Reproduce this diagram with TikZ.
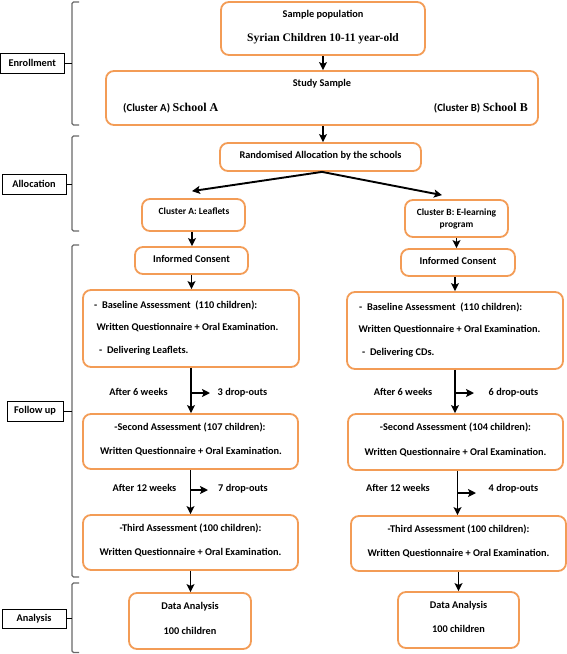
\documentclass[tikz,border=0pt]{standalone}
\usepackage{fontspec}
\setmainfont{Carlito}
\newfontfamily\tnr{Liberation Serif}
\usetikzlibrary{arrows.meta}
\definecolor{myorange}{RGB}{243,156,86}
\definecolor{bracegray}{RGB}{105,105,105}
\tikzset{
  obox/.style={draw=myorange, line width=1.8pt, rounded corners=8pt, inner sep=0pt},
  txt/.style={font=\bfseries\fontsize{10.3}{12}\selectfont, inner sep=0pt, text height=7pt, text depth=2pt},
  stxt/.style={font=\bfseries\fontsize{9.5}{11}\selectfont, inner sep=0pt, text height=6.5pt, text depth=2pt},
  serif/.style={font=\tnr\bfseries\fontsize{11.5}{13}\selectfont, inner sep=0pt, text height=8pt, text depth=2pt},
  labbox/.style={draw=black, line width=0.8pt, inner sep=0pt, font=\bfseries\fontsize{10.3}{12}\selectfont},
  arr/.style={-{Stealth[length=8pt,width=8pt,inset=1.8pt]}, line width=1.9pt},
  brc/.style={draw=bracegray, line width=1.3pt, rounded corners=1.5pt},
}
\newcommand\mybox[5]{\node[obox, minimum width={(#4-#2)*1pt}, minimum height={(#5-#3)*1pt}] (#1) at ({(#2+#4)/2},{(#3+#5)/2}) {};}
\newcommand\mylab[6]{\node[labbox, minimum width={(#4-#2)*1pt}, minimum height={(#5-#3)*1pt}] (#1) at ({(#2+#4)/2},{(#3+#5)/2}) {#6};}
\begin{document}
\begin{tikzpicture}[x=1pt,y=-1pt]
\fill[white] (0,0) rectangle (567,654);
\useasboundingbox (0,0) rectangle (567,654);

% ---------- boxes ----------
\mybox{pop}{221}{2}{425}{55}
\mybox{study}{106}{71}{538}{125}
\mybox{rand}{220}{143}{421}{171}
\mybox{clA}{142}{199}{245}{231}
\mybox{clB}{405}{200}{508}{237}
\mybox{icA}{135}{247}{248}{274}
\mybox{icB}{401}{249}{515}{276}
\mybox{baseA}{83}{290}{299}{367}
\mybox{baseB}{347}{292}{563}{369}
\mybox{secA}{83}{414}{298}{469}
\mybox{secB}{348}{414}{563}{470}
\mybox{thrA}{83}{515}{298}{570}
\mybox{thrB}{351}{516}{566}{571}
\mybox{datA}{129}{593}{251}{649}
\mybox{datB}{398}{592}{519}{648}

% ---------- texts ----------
\node[txt] (popt1) at (323,15) {Sample population};
\node[serif] (popt2) at (323,38) {Syrian Children 10-11 year-old};
\node[txt] (stt1) at (322,84) {Study Sample};
\node[txt, font=\bfseries\fontsize{10.8}{12}\selectfont, anchor=west] (stt2) at (123,109) {(Cluster A) {\tnr\fontsize{12}{13}\selectfont School A}};
\node[txt, font=\bfseries\fontsize{10.8}{12}\selectfont, anchor=east] (stt3) at (528,109) {(Cluster B) {\tnr\fontsize{12}{13}\selectfont School B}};
\node[txt] (randt) at (320.5,156) {Randomised Allocation by the schools};
\node[stxt] (clAt) at (194,212) {Cluster A: Leaflets};
\node[stxt] (clBt1) at (456.5,213) {Cluster B: E-learning};
\node[stxt] (clBt2) at (456.5,225) {program};
\node[txt] (icAt) at (191.5,260) {Informed Consent};
\node[txt] (icBt) at (458,262) {Informed Consent};

\node[txt, anchor=west] (bAt1) at (94,306) {-\ \ Baseline Assessment\ \ (110 children):};
\node[txt] (bAt2) at (187.5,328) {Written Questionnaire + Oral Examination.};
\node[txt, anchor=west] (bAt3) at (99,351) {-\ \ Delivering Leaflets.};
\node[txt, anchor=west] (bBt1) at (359,308) {-\ \ Baseline Assessment\ \ (110 children):};
\node[txt] (bBt2) at (449.5,330) {Written Questionnaire + Oral Examination.};
\node[txt, anchor=west] (bBt3) at (362,353) {-\ \ Delivering CDs.};

\node[txt] (sAt1) at (190,428) {-Second Assessment (107 children):};
\node[txt] (sAt2) at (191,452) {Written Questionnaire + Oral Examination.};
\node[txt] (sBt1) at (455.5,428) {-Second Assessment (104 children):};
\node[txt] (sBt2) at (455.5,453) {Written Questionnaire + Oral Examination.};

\node[txt] (tAt1) at (190.5,529) {-Third Assessment (100 children):};
\node[txt] (tAt2) at (190.5,553) {Written Questionnaire + Oral Examination.};
\node[txt] (tBt1) at (458.5,530) {-Third Assessment (100 children):};
\node[txt] (tBt2) at (458.5,554) {Written Questionnaire + Oral Examination.};

\node[txt] (dAt1) at (190,607) {Data Analysis};
\node[txt] (dAt2) at (190,632) {100 children};
\node[txt] (dBt1) at (458.5,606) {Data Analysis};
\node[txt] (dBt2) at (458.5,630) {100 children};

\node[txt] (wA1) at (138.5,393) {After 6 weeks};
\node[txt] (dA1) at (242.5,393) {3 drop-outs};
\node[txt] (wB1) at (403,393) {After 6 weeks};
\node[txt] (dB1) at (513.5,393) {6 drop-outs};
\node[txt] (wA2) at (144.5,489) {After 12 weeks};
\node[txt] (dA2) at (243,489) {7 drop-outs};
\node[txt] (wB2) at (398,489) {After 12 weeks};
\node[txt] (dB2) at (513.5,489) {4 drop-outs};

% ---------- arrows ----------
\draw[arr] (pop.south -| popt1) -- (study.north -| popt1);
\draw[arr] (study.south -| popt1) -- (rand.north -| popt1);
\draw[arr] ([xshift=1.5pt]rand.south) -- ([xshift=-1.5pt,yshift=7pt]clA.north);
\draw[arr] ([xshift=1.5pt]rand.south) -- ([xshift=-14.5pt,yshift=4pt]clB.north);
\draw[arr] ([xshift=-1.5pt]clA.south) -- ([xshift=-1.5pt]clA.south |- icA.north);
\draw[arr] (clB.south) -- (clB.south |- icB.north);
\draw[arr] (icA.south) -- (icA.south |- baseA.north);
\draw[arr] (baseB.north |- icB.south) -- (baseB.north);
\draw[arr] (baseA.south) -- (baseA.south |- secA.north);
\draw[arr] (baseB.south) -- (baseB.south |- secB.north);
\draw[arr] (secA.south) -- (secA.south |- thrA.north);
\draw[arr] ([xshift=2pt]secB.south) -- ([xshift=2pt]secB.south |- thrB.north);
\draw[arr] (thrA.south) -- (thrA.south |- datA.north);
\draw[arr] (thrB.south) -- (thrB.south |- datB.north);

\coordinate (sA1a) at (190.5,393); \coordinate (sA1b) at (210,393);
\coordinate (sB1a) at (455,393);   \coordinate (sB1b) at (474,393);
\coordinate (sA2a) at (190.5,490); \coordinate (sA2b) at (208,490);
\coordinate (sB2a) at (457.5,493); \coordinate (sB2b) at (476,493);
\draw[arr] (sA1a) -- (sA1b);
\draw[arr] (sB1a) -- (sB1b);
\draw[arr] (sA2a) -- (sA2b);
\draw[arr] (sB2a) -- (sB2b);

% ---------- left labels & brackets ----------
\mylab{enr}{0.5}{53}{64}{73}{Enrollment}
\mylab{alc}{2}{174}{66}{194}{Allocation}
\mylab{fol}{7}{401}{63}{421}{Follow up}
\mylab{ana}{2}{609}{66}{628}{Analysis}

\coordinate (b1t) at (79,2);   \coordinate (b1b) at (79,125); \coordinate (b1m) at (72,63);
\coordinate (b2t) at (79,136); \coordinate (b2b) at (79,231); \coordinate (b2m) at (72,184);
\coordinate (b3t) at (79,245); \coordinate (b3b) at (79,577); \coordinate (b3m) at (72,411);
\coordinate (b4t) at (79,583); \coordinate (b4b) at (79,652.5); \coordinate (b4m) at (72,618.5);
\draw[brc] (b1t) -- ++(-7,0) -- ++(0,123) -- (b1b);
\draw[brc] (b2t) -- ++(-7,0) -- ++(0,95) -- (b2b);
\draw[brc] (b3t) -- ++(-7,0) -- ++(0,332) -- (b3b);
\draw[brc] (b4t) -- ++(-7,0) -- ++(0,69.5) -- (b4b);
\draw[line width=0.9pt] (enr.east) -- (b1m);
\draw[line width=0.9pt] (alc.east) -- (b2m);
\draw[line width=0.9pt] (fol.east) -- (b3m);
\draw[line width=0.9pt] (ana.east) -- (b4m);
\end{tikzpicture}
\end{document}
